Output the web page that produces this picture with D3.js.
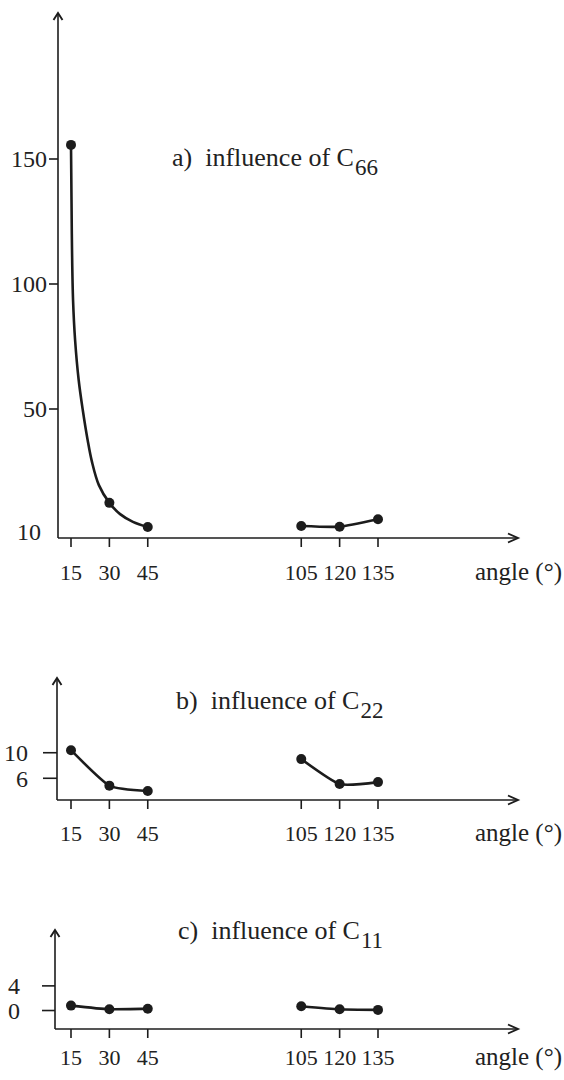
<!DOCTYPE html>
<html>
<head>
<meta charset="utf-8">
<script src="https://cdn.jsdelivr.net/npm/d3@7"></script>
<style>
  html, body { margin: 0; padding: 0; background: #ffffff; }
  svg { display: block; }
  text { font-family: "Liberation Serif", "Times New Roman", serif; fill: #222; }
</style>
</head>
<body>
<svg id="chart" width="564" height="1080"></svg>
<script>
// ---------- data ----------
const angles = [15, 30, 45, 105, 120, 135];
const xTickLabels = ["15", "30", "45", "105", "120", "135"];
const leftAngles = [15, 30, 45];
const rightAngles = [105, 120, 135];

// panel a) influence of C66
const aTicks = [10, 50, 100, 150];
const aLeft = [155.6, 20.9, 13.4];
const aRight = [13.7, 13.5, 15.8];
// fitted curve (angle, value)
const aCurveAngles = [15, 15.2, 15.4, 15.8, 16.6, 18.0, 19.6, 21.5, 23.2, 25.9, 30, 34.2, 39.2, 45];
const aCurveValues = [155.6, 133.6, 113.6, 93.6, 77.6, 61.6, 49.7, 40.4, 33.6, 26.4, 20.9, 17.4, 15.0, 13.4];

// panel b) influence of C22
const bTicks = [6, 10];
const bLeft = [10.4, 4.85, 4.0];
const bRight = [9.0, 5.1, 5.4];

// panel c) influence of C11
const cTicks = [0, 4];
const cLeft = [0.8, 0.2, 0.3];
const cRight = [0.7, 0.2, 0.1];

const titles = [
  { lead: "a)\u00a0\u00a0influence of C", sub: "66" },
  { lead: "b)\u00a0\u00a0influence of C", sub: "22" },
  { lead: "c)\u00a0\u00a0influence of C", sub: "11" }
];
const xAxisTitle = "angle (°)";

// ---------- layout ----------
const svg = d3.select("#chart");
const ink = "#1c1c1c";
const x = d3.scaleLinear().domain([15, 135]).range([71, 378]);

const panels = [
  {
    axisX: 58, bottom: 538, top: 13, arrowTip: 518,
    y: d3.scaleLinear().domain([10, 50, 150, 208]).range([538, 409, 159, 13]),
    ticks: aTicks, tickX0: 49, labelRight: 47,
    left: aLeft, right: aRight,
    curve: aCurveAngles.map((a, i) => [a, aCurveValues[i]]),
    title: titles[0], titleX: 172, titleY: 166, labelY: 580
  },
  {
    axisX: 57, bottom: 800, top: 678, arrowTip: 518,
    y: d3.scaleLinear().domain([2.6, 21.7]).range([800, 678]),
    ticks: bTicks, tickX0: 43, labelRight: 28,
    left: bLeft, right: bRight, curve: null,
    title: titles[1], titleX: 176, titleY: 709, labelY: 841
  },
  {
    axisX: 55, bottom: 1029, top: 930, arrowTip: 518,
    y: d3.scaleLinear().domain([-3.0, 13.07]).range([1029, 930]),
    ticks: cTicks, tickX0: 42, labelRight: 20,
    left: cLeft, right: cRight, curve: null,
    title: titles[2], titleX: 178, titleY: 939, labelY: 1065
  }
];

panels.forEach(p => {
  const g = svg.append("g");
  const y = p.y;

  // y axis line with arrow
  g.append("line")
    .attr("x1", p.axisX).attr("x2", p.axisX)
    .attr("y1", p.top + 1).attr("y2", p.bottom)
    .attr("stroke", ink).attr("stroke-width", 1.6);
  g.append("path")
    .attr("d", `M${p.axisX - 4.5},${p.top + 7} L${p.axisX},${p.top} L${p.axisX + 4.5},${p.top + 7}`)
    .attr("fill", "none").attr("stroke", ink).attr("stroke-width", 1.9);

  // x axis line with arrow
  g.append("line")
    .attr("x1", p.axisX).attr("x2", p.arrowTip)
    .attr("y1", p.bottom).attr("y2", p.bottom)
    .attr("stroke", ink).attr("stroke-width", 1.6);
  g.append("path")
    .attr("d", `M${p.arrowTip - 10},${p.bottom - 4.5} L${p.arrowTip},${p.bottom} L${p.arrowTip - 10},${p.bottom + 4.5}`)
    .attr("fill", "none").attr("stroke", ink).attr("stroke-width", 1.9);

  // x ticks + labels
  g.selectAll(".xt").data(angles).enter().append("line")
    .attr("x1", d => x(d)).attr("x2", d => x(d))
    .attr("y1", p.bottom).attr("y2", p.bottom + 9)
    .attr("stroke", ink).attr("stroke-width", 1.6);
  g.selectAll(".xl").data(angles).enter().append("text")
    .attr("x", d => x(d)).attr("y", p.labelY)
    .attr("text-anchor", "middle").attr("font-size", 22)
    .text((d, i) => xTickLabels[i]);
  g.append("text")
    .attr("x", 562).attr("y", p.labelY)
    .attr("text-anchor", "end").attr("font-size", 25)
    .text(xAxisTitle);

  // y ticks + labels
  p.ticks.forEach(t => {
    const yy = y(t);
    const atOrigin = Math.abs(yy - p.bottom) < 1;
    if (!atOrigin) {
      g.append("line")
        .attr("x1", p.tickX0).attr("x2", p.axisX)
        .attr("y1", yy).attr("y2", yy)
        .attr("stroke", ink).attr("stroke-width", 1.6);
    }
    g.append("text")
      .attr("x", atOrigin ? 41 : p.labelRight)
      .attr("y", atOrigin ? yy - 6 : yy)
      .attr("dy", "0.35em")
      .attr("text-anchor", "end").attr("font-size", 24)
      .text(t);
  });

  // title
  const tt = g.append("text")
    .attr("x", p.titleX).attr("y", p.titleY)
    .attr("font-size", 26);
  tt.append("tspan").text(p.title.lead);
  tt.append("tspan").attr("dx", 1).attr("dy", 9).attr("font-size", 23).text(p.title.sub);

  // lines
  const tracedLine = d3.line().x(d => x(d[0])).y(d => y(d[1])).curve(d3.curveCatmullRom.alpha(0.5));
  const pointLine = d3.line().x(d => x(d[0])).y(d => y(d[1])).curve(d3.curveCardinal.tension(0.45));
  const leftPts = p.curve ? p.curve : leftAngles.map((a, i) => [a, p.left[i]]);
  const rightPts = rightAngles.map((a, i) => [a, p.right[i]]);
  g.append("path").attr("d", (p.curve ? tracedLine : pointLine)(leftPts))
    .attr("fill", "none").attr("stroke", ink).attr("stroke-width", 2.6);
  g.append("path").attr("d", pointLine(rightPts))
    .attr("fill", "none").attr("stroke", ink).attr("stroke-width", 2.6);

  // dots
  const dots = leftAngles.map((a, i) => [a, p.left[i]]).concat(rightPts);
  g.selectAll(".dot").data(dots).enter().append("circle")
    .attr("cx", d => x(d[0])).attr("cy", d => y(d[1]))
    .attr("r", 5).attr("fill", ink);
});
</script>
</body>
</html>
